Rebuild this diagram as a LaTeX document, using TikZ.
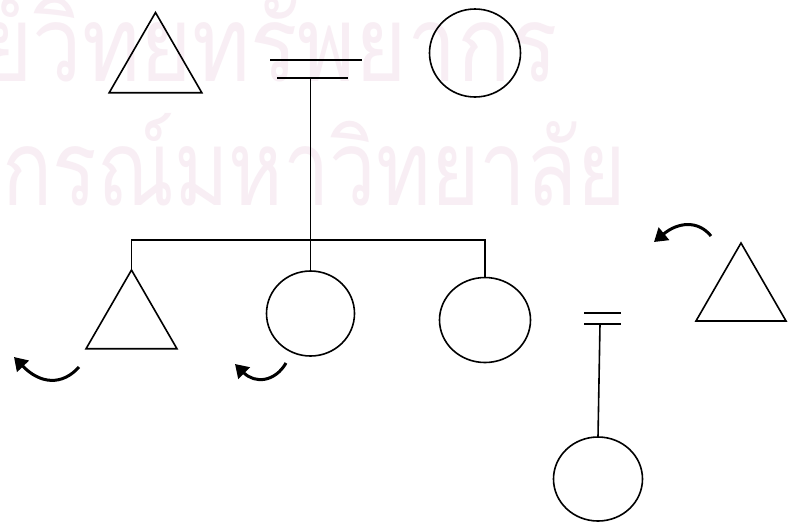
\documentclass[tikz,border=0pt]{standalone}
\usepackage{fontspec}
\usepackage{graphicx}
\newfontfamily\thaifont[Script=Thai]{Loma}
\usetikzlibrary{shapes.geometric,arrows.meta}
\definecolor{wmpink}{RGB}{248,238,244}
\newcommand{\wmtext}[2]{\scalebox{#1}[1]{#2}}
\begin{document}
\begin{tikzpicture}[x=1pt,y=-1pt,
  male/.style={draw, regular polygon, regular polygon sides=3, inner sep=0pt, outer sep=0pt, minimum size=#1, line width=1.6pt},
  female/.style={draw, ellipse, inner sep=0pt, outer sep=0pt, line width=1.6pt},
  link/.style={line width=1.6pt},
  proband/.style={line width=3pt, -{Triangle[width=16pt,length=13pt]}},
  wm/.style={text=wmpink, font=\thaifont\fontsize{105}{105}\selectfont, inner sep=0pt}
]
\useasboundingbox (0,0) rectangle (795,523);
\clip (0,0) rectangle (795,523);
\fill[white] (0,0) rectangle (795,523);
% watermark
\node[wm, anchor=base east] (wm1) at (558,81) {\wmtext{0.84}{ศูนย์วิทยทรัพยากร}};
\node[wm, anchor=base east] (wm2) at (626,205) {\wmtext{0.79}{จุฬาลงกรณ์มหาวิทยาลัย}};
% parents
\node[male=107] (gf) at (155.5,66) {};
\node[female, minimum width=91pt, minimum height=88pt] (gm) at (475,53) {};
\coordinate (m1a) at (270,60); \coordinate (m1b) at (362,60);
\coordinate (m2a) at (277,78); \coordinate (m2b) at (348,78);
\coordinate (mc) at (310.5,78);
\coordinate (sib) at (310.5,240);
\draw[link] (m1a) -- (m1b);
\draw[link] (m2a) -- (m2b);
\draw[link] (mc) -- (sib);
% children
\node[male=105] (c1) at (131.5,322.5) {};
\node[female, minimum width=88pt, minimum height=85pt] (c2) at (310.5,313.5) {};
\node[female, minimum width=91pt, minimum height=85pt] (c3) at (485,320) {};
\draw[link] (c1.north) |- (sib) -| (c3.north);
\draw[link] (sib) -- (c2.north);
% second couple line and child
\coordinate (n1a) at (584,313); \coordinate (n1b) at (621,313);
\coordinate (n2a) at (584,324); \coordinate (n2b) at (621,324);
\coordinate (nc) at (600,324);
\node[female, minimum width=89pt, minimum height=84pt] (d1) at (598,479) {};
\draw[link] (n1a) -- (n1b);
\draw[link] (n2a) -- (n2b);
\draw[link] (nc) -- (d1.north);
% right triangle
\node[male=104] (r1) at (741,295) {};
% proband arrows
\coordinate (a1s) at (79,367); \coordinate (a1e) at (14,357);
\draw[proband] (a1s) .. controls (62,386) and (40,384) .. (a1e);
\coordinate (a2s) at (286,363); \coordinate (a2e) at (235,364);
\draw[proband] (a2s) .. controls (275,382) and (255,384) .. (a2e);
\coordinate (a3s) at (711,236); \coordinate (a3e) at (654,242);
\draw[proband] (a3s) .. controls (698,220) and (678,222) .. (a3e);
\end{tikzpicture}
\end{document}
